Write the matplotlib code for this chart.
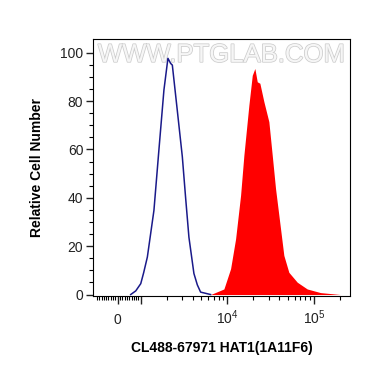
import matplotlib
matplotlib.use('Agg')
import matplotlib.pyplot as plt
import matplotlib.patheffects as pe
import numpy as np

plt.rcParams['font.family'] = ['Liberation Sans', 'DejaVu Sans']
plt.rcParams['mathtext.fontset'] = 'custom'
plt.rcParams['mathtext.rm'] = 'Liberation Sans'

# isotype / unstained control (blue outline)
ctrl_x = [565, 783, 1000, 1080, 1192, 1420, 1620, 1853, 2061, 2215, 2317,
          2647, 3023, 3300, 3603, 4115, 4505, 4917, 6415]
ctrl_y = [0.0, 1.5, 4.5, 9.0, 15.5, 34.8, 59.7, 84.6, 97.7, 95.6, 94.9,
          76.0, 57.0, 40.0, 23.7, 8.7, 4.0, 1.0, 0.0]

# stained sample (red filled)
stain_x = [6415, 9133, 10918, 12470, 14240, 15550, 16710, 17760, 19440,
           20830, 22200, 23790, 26470, 30230, 33080, 36120, 41260, 45040,
           51440, 64330, 83890, 119500, 155900, 203400]
stain_y = [0.0, 2.3, 10.7, 23.0, 41.0, 57.6, 68.8, 78.3, 90.7,
           93.5, 88.0, 87.4, 79.8, 71.5, 57.6, 43.8, 27.2, 16.2,
           9.2, 5.1, 2.3, 0.8, 0.4, 0.0]

xticks = [0, 1e4, 1e5]
xticklabels = ['0', r'$10^4$', r'$10^5$']
yticks = [0, 20, 40, 60, 80, 100]

fig = plt.figure(figsize=(3.7, 3.67), dpi=100)
ax = fig.add_axes([0.2514, 0.1935, 0.6946, 0.6989])

ax.set_xscale('symlog', linthresh=1000, linscale=0.24)
ax.fill_between(stain_x, stain_y, 0, color='#ff0000', lw=0)
ax.plot(ctrl_x, ctrl_y, color='#1a1a8a', lw=1.1)

minor = [v for v in range(-900, 1000, 100) if v != 0]
minor += [m * 10 ** e for e in (3, 4) for m in range(2, 10)] + [2e5]
ax.set_xticks(xticks + [1e3])
ax.set_xticklabels(xticklabels + [''])
ax.set_xticks(minor, minor=True)
ax.set_yticks(yticks)
ax.set_yticks(np.arange(0, 105, 5), minor=True)

ax.set_xlim(-1043, 262000)
ax.set_ylim(-0.6, 105.5)

ax.tick_params(axis='x', which='major', length=6, width=1, labelsize=10,
               pad=14, colors='#222222')
ax.tick_params(axis='x', which='minor', length=3, width=0.8)
ax.tick_params(axis='y', which='major', length=5, width=1, labelsize=10,
               pad=2, colors='#222222')
ax.tick_params(axis='y', which='minor', length=3, width=0.8)
for lbl in ax.get_xticklabels():
    lbl.set_va('baseline')

ax.set_xlabel('CL488-67971 HAT1(1A11F6)', fontsize=10, fontweight='bold',
              labelpad=10)
ax.set_ylabel('Relative Cell Number', fontsize=10, fontweight='bold',
              labelpad=12)

ax.text(0.5, 0.94, 'WWW.PTGLAB.COM', transform=ax.transAxes,
        ha='center', va='center', fontsize=18.5, color='#f6f6f6',
        path_effects=[pe.withStroke(linewidth=1.1, foreground='#cccccc')],
        zorder=0)

fig.savefig('out.png', dpi=100)
